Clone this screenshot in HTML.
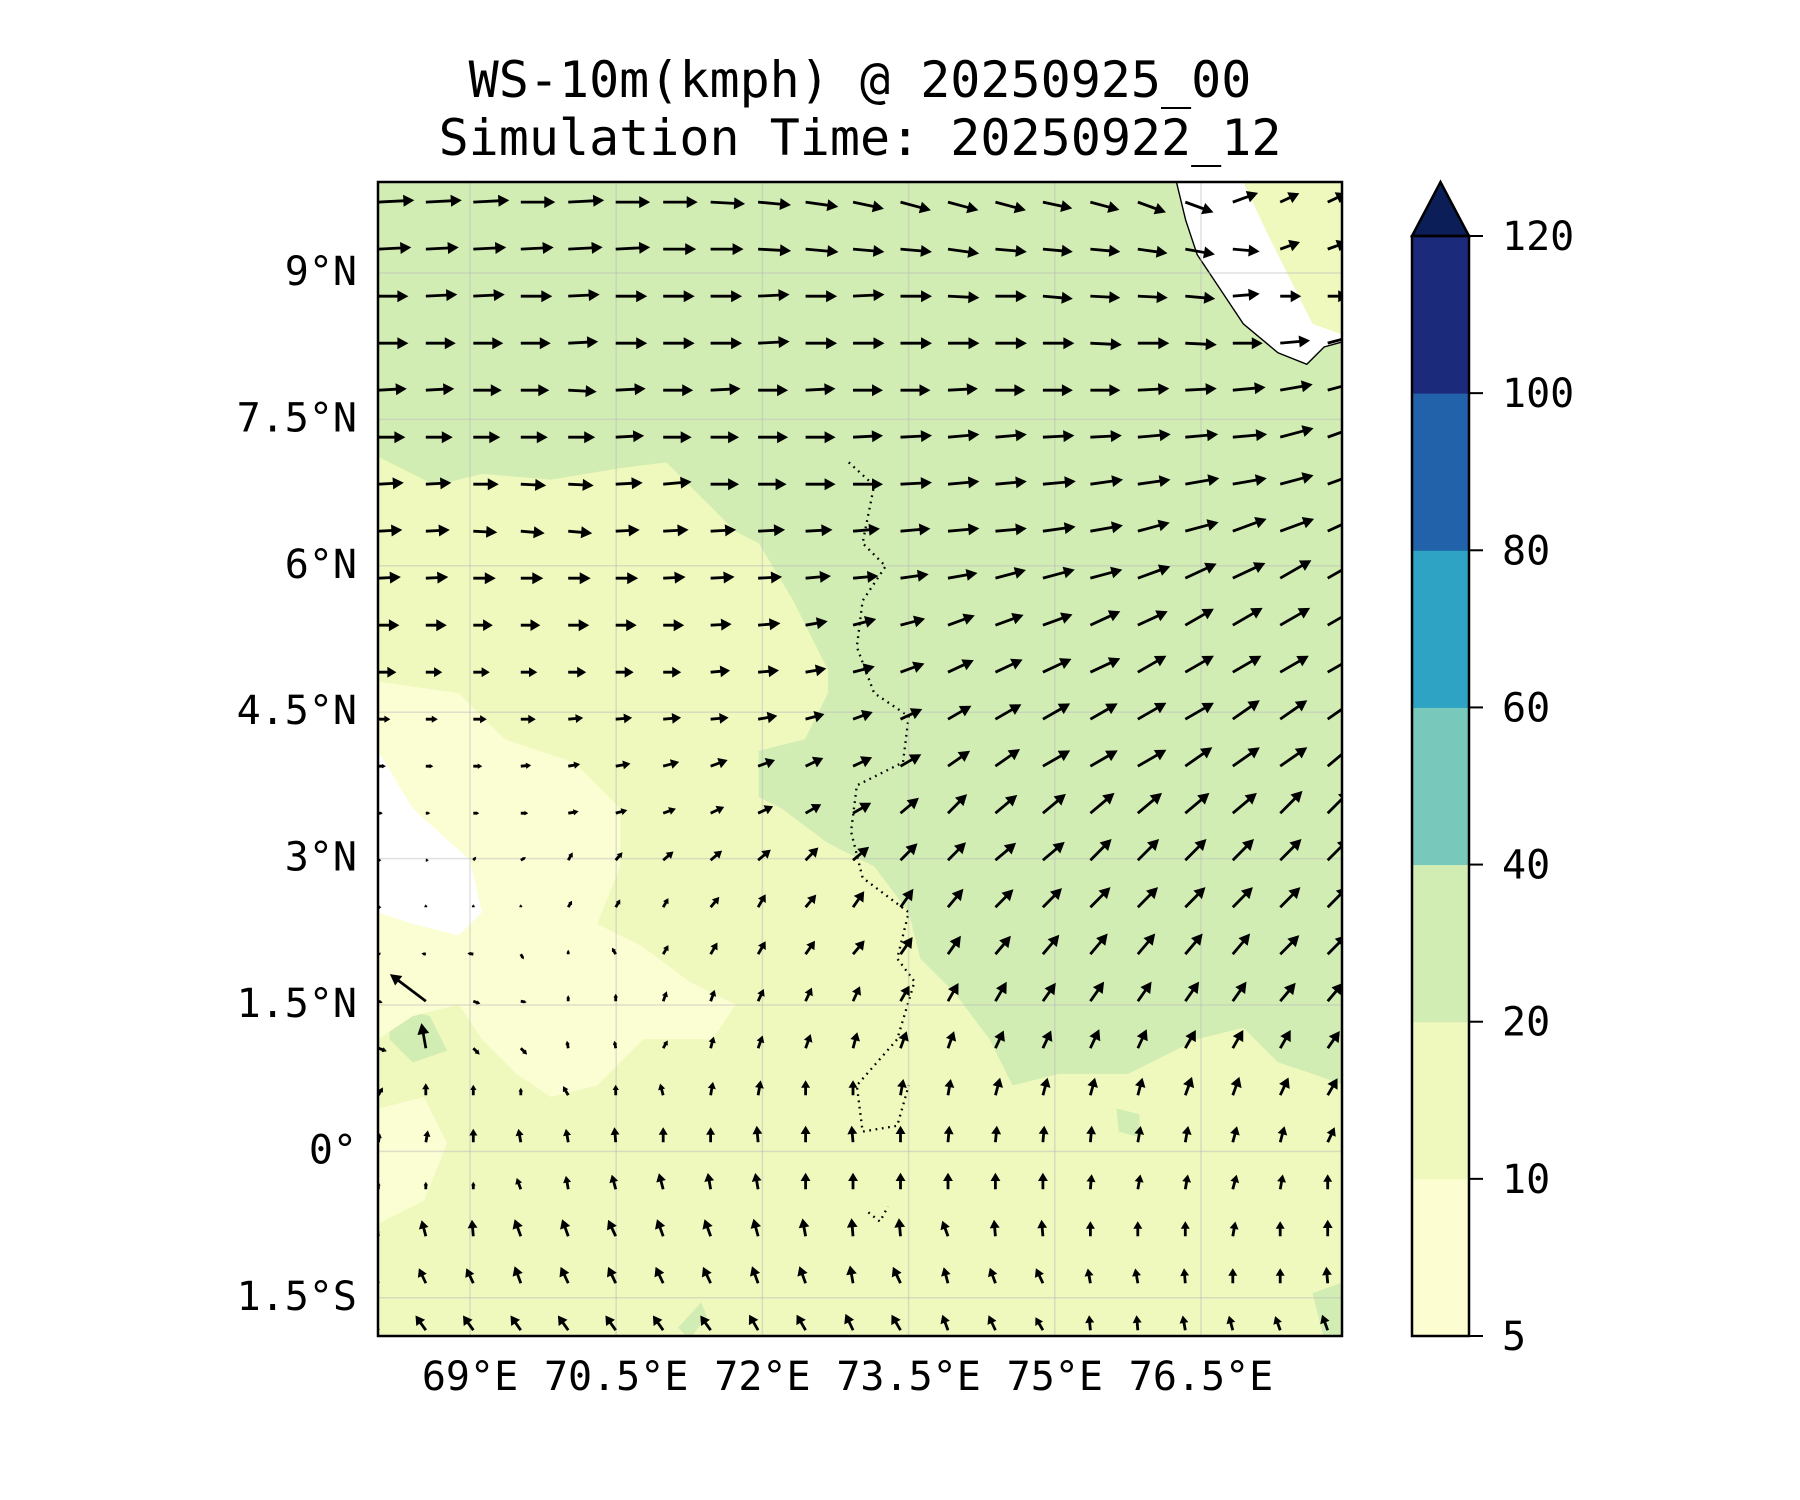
<!DOCTYPE html>
<html><head><meta charset="utf-8"><style>
html,body{margin:0;padding:0;background:#fff}
svg{display:block;font-family:"DejaVu Sans Mono","Liberation Mono",monospace}
</style></head><body>
<svg width="1800" height="1500" viewBox="0 0 1800 1500" xmlns="http://www.w3.org/2000/svg">
<defs><clipPath id="clip"><rect x="378" y="182" width="964" height="1154"/></clipPath></defs>
<text x="860" y="97" font-size="50" text-anchor="middle">WS-10m(kmph) @ 20250925_00</text>
<text x="860" y="155" font-size="50" text-anchor="middle">Simulation Time: 20250922_12</text>
<g clip-path="url(#clip)">
<rect x="378" y="182" width="964" height="1154" fill="#d2edb3"/>
<g transform="translate(378,182) scale(1.1538) translate(-330,-157)">
<path fill="#eff8bd" d="M330,395 L380,420 L420,410 L480,415 L540,405 L580,400 L600,420 L640,460 L660,470 L690,520 L720,580 L720,600 L700,640 L660,650 L680,700 L720,730 L760,750 L790,790 L800,830 L830,860 L860,900 L880,940 L920,930 L980,930 L1040,900 L1080,890 L1110,920 L1140,930 L1168,940 L1168,1170 L330,1170 Z"/>
<path fill="#d2edb3" d="M660,650 L700,645 L730,660 L760,700 L770,730 L740,730 L700,710 L660,690 Z M340,870 L375,880 L390,910 L360,920 L340,900 Z M970,960 L990,965 L990,985 L972,980 Z M590,1150 L610,1128 L615,1140 L600,1160 Z M1140,1120 L1168,1110 L1168,1170 L1150,1160 Z"/>
<path fill="#fbfdd3" d="M330,590 L400,600 L440,640 L500,660 L540,700 L540,750 L520,800 L560,820 L600,850 L640,870 L620,900 L560,900 L520,940 L480,950 L450,930 L420,900 L400,870 L360,880 L330,900 Z M330,960 L370,950 L390,990 L370,1040 L330,1060 Z"/>
<path fill="#ffffff" d="M330,650 L360,700 L410,745 L420,790 L400,810 L360,800 L330,790 Z"/>
<path fill="#ffffff" stroke="#000" stroke-width="1.2" d="M1022,157 L1030,190 L1040,220 L1060,250 L1080,280 L1110,305 L1135,315 L1150,300 L1168,295 L1168,157 Z"/>
<path fill="#eff8bd" d="M1080,157 L1100,200 L1120,240 L1140,280 L1168,290 L1168,157 Z"/>
<path fill="none" stroke="#000" stroke-width="2" stroke-dasharray="1.5,4" d="M738,400 L760,420 L750,470 L770,490 L750,520 L745,560 L760,600 L790,620 L785,660 L745,680 L740,720 L750,760 L790,790 L780,830 L795,850 L780,900 L745,940 L750,980 L780,975 L790,940 M755,1050 L765,1058 L772,1045"/>
</g>
<g id="grid"></g>
<g id="arrows"></g>
</g>
<rect x="378" y="182" width="964" height="1154" fill="none" stroke="#000" stroke-width="2.5"/>
<g id="ticks" font-size="40"></g>
<g id="cbar" font-size="40"></g>
</svg>
<script>
const lonTicks=[69,70.5,72,73.5,75,76.5];
const lonLabels=["69°E","70.5°E","72°E","73.5°E","75°E","76.5°E"];
const latTicks=[9,7.5,6,4.5,3,1.5,0,-1.5];
const latLabels=["9°N","7.5°N","6°N","4.5°N","3°N","1.5°N","0°","1.5°S"];
const cbarLevels=[5,10,20,40,60,80,100,120];
const cbarColors=["#fcfed2","#eff8bd","#d2edb3","#78c9bc","#2ea3c3","#2162aa","#1c2a7c"];
const cbarExtendColor="#0b1e57";
const gridLon0=68.06, gridLonStep=0.487, gridLat0=9.726, gridLatStep=0.4816;
const ang=[
[3,3,3,0,3,0,0,-3,-5,-8,-12,-15,-15,-15,-12,-15,-20,-20,20,25,25],
[3,3,3,3,3,3,0,0,-3,-5,-5,-5,-8,-5,-5,-5,-8,-10,-5,20,20],
[0,3,3,0,3,0,0,0,3,0,3,0,-3,0,-5,-3,-3,-5,5,0,0],
[0,0,0,0,3,0,0,0,3,0,0,0,0,0,0,-3,0,-3,0,5,15],
[3,3,0,0,-3,3,0,3,0,3,0,0,3,0,0,0,3,3,5,10,15],
[0,0,0,0,0,3,0,0,0,0,3,3,5,5,3,3,5,5,5,15,20],
[3,3,0,-3,-3,3,5,0,0,0,0,3,5,5,5,8,8,10,10,15,20],
[3,3,-3,-5,-5,3,3,3,3,3,5,5,5,5,8,10,15,15,20,20,25],
[3,3,0,0,0,0,3,3,3,5,5,8,10,15,15,15,20,25,25,30,30],
[0,0,0,0,0,0,0,3,5,10,15,15,20,20,20,25,25,30,30,30,30],
[0,0,0,0,0,0,0,5,5,10,15,20,25,25,25,25,30,30,30,30,30],
[0,0,0,0,5,5,5,5,10,15,20,25,30,30,30,30,30,30,35,35,35],
[0,0,0,5,10,10,15,20,20,25,25,30,35,35,30,30,30,35,35,35,40],
[0,0,0,0,10,15,20,25,25,30,30,40,45,40,40,40,40,40,40,45,45],
[0,0,50,30,60,50,40,40,40,45,40,45,45,40,40,45,45,45,45,45,45],
[0,90,90,90,60,60,60,50,60,50,55,55,50,45,45,45,45,45,45,45,45],
[30,170,170,-60,90,120,60,60,60,55,50,55,55,50,50,50,50,50,50,45,45],
[-20,143,-20,-10,90,90,70,70,65,65,65,60,60,60,55,55,55,55,55,50,50],
[-20,100,-45,-45,100,100,60,75,70,70,75,70,70,65,65,65,65,60,60,60,55],
[60,90,90,90,120,90,105,80,80,90,90,80,80,75,75,75,75,70,70,65,60],
[80,80,90,100,100,95,90,90,95,90,95,90,85,85,85,85,80,80,75,75,65],
[90,90,90,110,100,105,105,100,100,90,90,90,90,90,90,85,80,80,75,80,90],
[100,105,95,110,110,115,110,110,105,100,95,95,110,95,95,90,90,90,80,90,90],
[110,115,115,110,115,115,115,115,110,110,100,115,105,110,115,100,100,95,90,90,95],
[115,125,125,125,125,125,125,125,120,120,115,120,110,115,120,95,95,100,105,110,110]];
const spd=[
[24,24,24,23,24,23,23,23,22,22,21,21,21,21,20,20,20,20,18,14,14],
[22,22,22,22,23,23,22,22,22,22,21,21,21,21,20,20,20,20,18,14,14],
[20,21,21,21,21,21,21,21,21,21,21,21,21,21,20,20,20,20,18,14,14],
[20,20,20,20,20,21,21,21,21,21,21,21,21,21,21,21,21,21,20,20,20],
[19,19,19,19,19,20,20,20,20,20,20,20,20,20,20,20,21,21,22,22,22],
[18,18,18,18,18,19,19,19,20,20,20,21,21,21,21,21,22,22,23,23,23],
[17,17,17,17,17,18,19,19,19,20,20,21,21,21,22,22,22,23,23,23,23],
[16,16,16,16,16,16,17,17,18,18,18,20,21,21,22,22,22,23,24,24,24],
[15,15,15,15,15,15,15,16,16,17,17,19,20,21,22,22,23,23,24,24,24],
[14,14,13,13,14,14,14,14,15,15,16,17,19,20,21,22,22,22,23,23,23],
[12,11,11,11,12,12,12,13,14,14,15,17,19,20,21,22,22,22,22,22,22],
[8,8,9,10,10,11,12,12,13,13,14,16,18,20,21,21,22,22,22,22,22],
[5,5,6,7,8,10,11,12,12,13,14,16,18,20,21,21,22,22,22,22,22],
[3,3,4,5,7,8,9,10,11,12,14,16,18,19,20,21,21,21,21,21,21],
[2,2,3,4,6,7,9,10,11,12,14,16,17,18,19,20,20,20,20,20,20],
[2,2,2,2,5,6,7,9,10,11,13,15,16,17,18,19,19,19,19,19,19],
[2,3,4,4,3,5,7,9,10,11,12,14,15,16,17,18,18,18,18,18,18],
[3,30,5,4,4,5,7,8,9,10,11,12,14,15,15,16,16,16,16,16,16],
[6,17,6,6,5,5,6,8,9,10,11,12,12,13,13,14,14,14,14,14,14],
[6,8,7,5,7,7,8,9,10,10,10,11,11,12,12,12,12,13,13,13,13],
[6,8,9,9,9,10,10,10,11,11,11,11,11,11,11,11,11,11,11,11,11],
[5,5,5,8,9,10,11,11,11,11,11,11,11,11,11,10,10,10,10,10,10],
[5,11,11,12,12,12,12,12,12,12,12,12,11,11,11,10,10,10,10,10,11],
[5,11,11,12,12,12,12,12,12,12,12,12,11,11,11,10,10,10,10,10,11],
[5,12,12,12,12,12,12,12,12,12,12,12,11,11,10,10,10,10,10,10,11]];

const NS="http://www.w3.org/2000/svg";
const X0=378,X1=1342,Y0=182,Y1=1336;
function xScale(lon){return 470+(lon-69)*146.2/1.5;}
function yScale(lat){return 273+(9-lat)*146.4/1.5;}
function mk(tag,attrs,parent){const e=document.createElementNS(NS,tag);for(const k in attrs)e.setAttribute(k,attrs[k]);parent.appendChild(e);return e;}

const grid=document.getElementById('grid');
lonTicks.forEach(l=>{const e=mk('line',{x1:xScale(l),x2:xScale(l),y1:Y0,y2:Y1,stroke:'#bbb','stroke-opacity':0.45,'stroke-width':1.5},grid);

});
latTicks.forEach(l=>{const e=mk('line',{x1:X0,x2:X1,y1:yScale(l),y2:yScale(l),stroke:'#bbb','stroke-opacity':0.45,'stroke-width':1.5},grid);

});

const ticks=document.getElementById('ticks');
lonTicks.forEach((l,i)=>{const t=mk('text',{x:xScale(l),y:1390,'text-anchor':'middle'},ticks);t.textContent=lonLabels[i];

});
latTicks.forEach((l,i)=>{const t=mk('text',{x:357,y:yScale(l)+12,'text-anchor':'end'},ticks);t.textContent=latLabels[i];

});

const arrows=document.getElementById('arrows');
const PX=1.5;
for(let r=0;r<ang.length;r++){for(let c=0;c<ang[r].length;c++){
  const x=xScale(gridLon0+c*gridLonStep), y=yScale(gridLat0-r*gridLatStep);
  const L=spd[r][c]*PX, a=ang[r][c]*Math.PI/180;
  const ux=Math.cos(a), uy=-Math.sin(a), px=-uy, py=ux;
  const hl=Math.min(11,L*0.5), hw=Math.min(6,L*0.3), sw=1.4;
  const bx=x+ux*(L-hl), by=y+uy*(L-hl), tx=x+ux*L, ty=y+uy*L;
  const pts=[[x+px*sw,y+py*sw],[bx+px*sw,by+py*sw],[bx+px*hw,by+py*hw],[tx,ty],[bx-px*hw,by-py*hw],[bx-px*sw,by-py*sw],[x-px*sw,y-py*sw]];
  const p=mk('polygon',{points:pts.map(q=>q[0].toFixed(1)+','+q[1].toFixed(1)).join(' '),fill:'#000'},arrows);
  
  
}}

const cb=document.getElementById('cbar');
const CX0=1412,CX1=1469,CT=236,CB=1336,segH=(CB-CT)/(cbarLevels.length-1);
cbarColors.forEach((col,i)=>{const e=mk('rect',{x:CX0,y:CB-(i+1)*segH,width:CX1-CX0,height:segH+0.5,fill:col},cb);

});
const tri=mk('polygon',{points:`${CX0},${CT} ${(CX0+CX1)/2},182 ${CX1},${CT}`,fill:cbarExtendColor,stroke:'#000','stroke-width':2.5},cb);


const fr=mk('rect',{x:CX0,y:CT,width:CX1-CX0,height:CB-CT,fill:'none',stroke:'#000','stroke-width':2.5},cb);


cbarLevels.forEach((v,i)=>{const y=CB-i*segH;
  const l=mk('line',{x1:CX1,x2:CX1+14,y1:y,y2:y,stroke:'#000','stroke-width':2},cb);
  
  
  const t=mk('text',{x:1502,y:y+14},cb);t.textContent=v;
  
  });
</script>
</body></html>
